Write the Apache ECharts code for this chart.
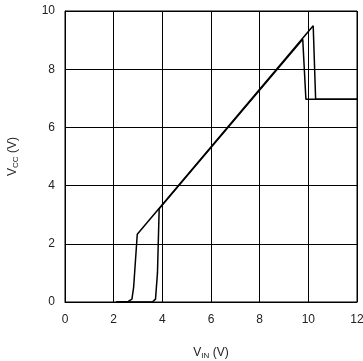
<!DOCTYPE html>
<html>
<head>
<meta charset="utf-8">
<script src="https://cdn.jsdelivr.net/npm/echarts@6/dist/echarts.min.js"></script>
<style>html,body{margin:0;padding:0;background:#fff}#c{width:363px;height:361px}</style>
</head>
<body>
<div id="c"></div>
<script>
// Rising sweep (VIN increasing)
var upX = [2.1, 2.6, 2.75, 2.82, 2.97, 10.2, 10.3, 12.0];
var upY = [0.0, 0.02, 0.1, 0.5, 2.33, 9.49, 6.97, 6.97];
// Falling sweep (VIN decreasing)
var downX = [12.0, 9.9, 9.77, 3.87, 3.8, 3.72, 3.6, 2.1];
var downY = [6.97, 6.97, 9.03, 3.2, 1.0, 0.1, 0.01, 0.0];
var xTicks = [0, 2, 4, 6, 8, 10, 12];
var yTicks = [0, 2, 4, 6, 8, 10];

function pairs(xs, ys) { return xs.map(function (x, i) { return [x, ys[i]]; }); }

var chart = echarts.init(document.getElementById('c'), null, {renderer: 'canvas'});
var font = 'Liberation Sans, Arial, sans-serif';
chart.setOption({
  animation: false,
  grid: {left: 65, right: 6, top: 11, bottom: 59, containLabel: false, outerBoundsMode: 'none', show: true, borderColor: '#000', borderWidth: 1},
  xAxis: {
    type: 'value', min: xTicks[0], max: xTicks[xTicks.length - 1], interval: 2,
    axisLine: {show: true, lineStyle: {color: '#000', width: 1}},
    axisTick: {show: false},
    splitLine: {show: true, lineStyle: {color: '#000', width: 1}},
    axisLabel: {color: '#222', fontSize: 12, fontFamily: font, margin: 12},
    name: '{v|V}{s|IN}{v| (V)}', nameLocation: 'middle', nameGap: 44,
    nameTextStyle: {rich: {v: {fontSize: 12, fontFamily: font, color: '#222'}, s: {fontSize: 8, fontFamily: font, color: '#222', verticalAlign: 'bottom', padding: [6, 0, 0, 0]}}}
  },
  yAxis: {
    type: 'value', min: yTicks[0], max: yTicks[yTicks.length - 1], interval: 2,
    axisLine: {show: true, lineStyle: {color: '#000', width: 1}},
    axisTick: {show: false},
    splitLine: {show: true, lineStyle: {color: '#000', width: 1}},
    axisLabel: {color: '#222', fontSize: 12, fontFamily: font, margin: 10},
    name: '{v|V}{s|CC}{v| (V)}', nameLocation: 'middle', nameGap: 45, nameRotate: 90,
    nameTextStyle: {rich: {v: {fontSize: 12, fontFamily: font, color: '#222'}, s: {fontSize: 8, fontFamily: font, color: '#222', verticalAlign: 'bottom', padding: [6, 0, 0, 0]}}}
  },
  series: [
    {type: 'line', data: pairs(upX, upY), showSymbol: false, symbol: 'none', lineStyle: {color: '#000', width: 1.5}, z: 5},
    {type: 'line', data: pairs(downX, downY), showSymbol: false, symbol: 'none', lineStyle: {color: '#000', width: 1.5}, z: 5}
  ]
});
</script>
</body>
</html>
